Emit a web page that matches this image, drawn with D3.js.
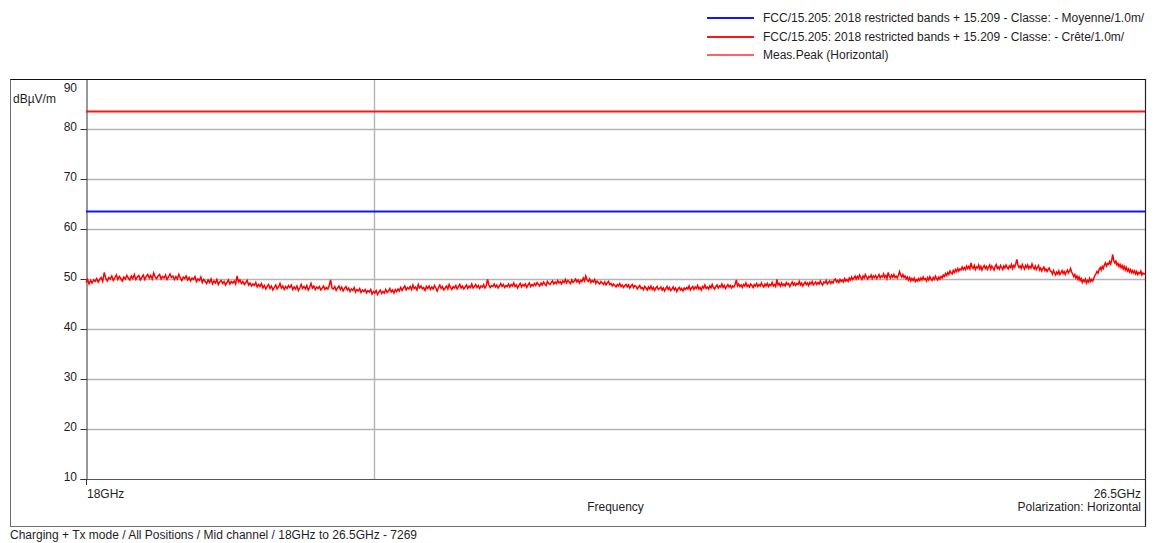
<!DOCTYPE html>
<html>
<head>
<meta charset="utf-8">
<script src="https://cdn.jsdelivr.net/npm/d3@7"></script>
<style>
  html, body { margin: 0; padding: 0; background: #fff; }
  svg { display: block; font-family: "Liberation Sans", Arial, sans-serif; }
</style>
</head>
<body>
<svg id="chart" width="1154" height="543"></svg>
<script>
// Sweep settings (GHz)
const sweepStart = 18;
const sweepStop = 26.5;

// Y axis ticks (dBµV/m) and X grid frequency (GHz)
const yTicks = [10, 20, 30, 40, 50, 60, 70, 80, 90];
const xGrid = [20];
const xEndLabels = ["18GHz", "26.5GHz"];

// Limit lines (dBµV/m)
const limitNames = [
  "FCC/15.205: 2018 restricted bands + 15.209 - Classe: - Moyenne/1.0m/",
  "FCC/15.205: 2018 restricted bands + 15.209 - Classe: - Crête/1.0m/"
];
const limitLevels = [63.5, 83.5];
const limitColors = ["#1414ff", "#ff1414"];

// Measured peak trace, horizontal polarization (dBµV/m), equally spaced sweep points
const peakName = "Meas.Peak (Horizontal)";
const peakLevels = [
  49.3, 49.9, 49.0, 49.7, 49.2, 49.8, 49.5, 50.1, 49.4, 49.9, 50.3, 49.5, 51.3, 50.2, 49.6, 50.3, 50.0, 50.6, 49.7, 50.2,
  50.8, 49.9, 50.5, 50.1, 49.6, 50.4, 50.0, 50.7, 50.2, 49.8, 50.6, 50.1, 50.9, 49.9, 50.4, 50.7, 49.8, 50.3, 50.8, 49.9,
  50.5, 50.9, 50.2, 50.7, 50.0, 51.2, 50.4, 50.1, 50.6, 50.9, 50.0, 50.5, 50.2, 50.8, 49.9, 50.4, 51.0, 50.3, 50.6, 49.9,
  50.5, 50.0, 50.9, 50.2, 49.7, 50.4, 50.1, 50.6, 49.8, 50.3, 49.6, 50.2, 49.9, 50.5, 49.5, 50.0, 49.7, 50.4, 49.3, 49.9,
  49.5, 49.1, 49.8, 49.3, 50.0, 49.0, 49.6, 49.2, 49.9, 48.9, 49.4, 49.7, 49.1, 49.5, 48.8, 49.3, 49.8, 49.0, 49.5, 49.2,
  49.6, 49.0, 50.6, 49.4, 49.8, 49.1, 49.5, 48.9, 49.3, 49.7, 48.8, 49.2, 48.6, 49.0, 48.7, 49.3, 48.4, 48.9, 48.5, 49.1,
  48.2, 48.7, 48.0, 48.5, 48.9, 48.1, 48.6, 47.8, 48.3, 48.8, 48.0, 48.4, 49.1, 48.2, 48.6, 47.9, 48.5, 48.1, 48.7, 48.3,
  48.8, 47.9, 48.4, 48.0, 48.6, 47.7, 48.2, 48.9, 48.1, 48.5, 48.0, 48.7, 47.8, 48.3, 49.1, 48.2, 48.6, 47.9, 48.4, 48.1,
  48.5, 47.8, 48.2, 48.6, 47.9, 48.3, 48.0, 48.7, 49.8, 48.2, 48.0, 48.5, 47.7, 48.2, 48.6, 47.9, 48.4, 47.6, 48.1, 48.5,
  47.8, 48.2, 47.5, 48.0, 47.7, 48.3, 47.4, 47.9, 47.6, 48.1, 47.3, 47.8, 47.5, 47.9, 47.2, 47.7, 47.4, 47.9, 47.0, 47.5,
  47.2, 47.7, 46.9, 47.4, 47.8, 47.1, 47.5, 47.2, 47.9, 47.3, 47.6, 48.1, 47.4, 47.8, 47.2, 47.9, 47.5, 48.0, 47.6, 48.3,
  47.7, 48.2, 48.6, 47.8, 48.3, 48.0, 48.5, 47.9, 48.8, 48.1, 48.4, 47.8, 48.9, 48.2, 48.6, 48.0, 48.3, 47.7, 48.5, 48.1,
  48.6, 47.9, 48.4, 48.0, 48.7, 48.2, 47.6, 48.3, 48.8, 48.1, 48.5, 47.8, 48.2, 48.6, 48.0, 48.9, 48.3, 47.9, 48.5, 48.2,
  48.7, 48.0, 48.5, 48.9, 48.2, 48.6, 48.0, 48.4, 48.8, 48.1, 48.6, 48.3, 49.0, 48.2, 48.5, 48.9, 48.3, 48.7, 48.1, 48.6,
  48.4, 48.9, 48.2, 48.7, 49.9, 48.8, 48.3, 48.7, 48.5, 49.0, 48.4, 48.8, 48.2, 48.6, 49.1, 48.5, 48.9, 48.3, 48.7, 48.5,
  49.0, 48.4, 48.9, 48.6, 49.2, 48.5, 48.8, 48.2, 48.7, 49.1, 48.4, 48.9, 48.6, 49.0, 48.3, 48.8, 49.2, 48.5, 48.9, 48.6,
  49.1, 48.7, 49.3, 48.9, 48.6, 49.2, 48.8, 49.4, 49.0, 48.7, 49.5, 49.1, 48.9, 49.3, 49.6, 49.0, 49.4, 49.1, 49.7, 49.2,
  49.5, 49.0, 49.6, 49.3, 49.9, 49.2, 49.7, 49.4, 49.1, 49.8, 49.3, 49.6, 50.0, 49.4, 49.8, 49.2, 49.7, 49.5, 50.2, 49.6,
  50.6, 49.8, 49.5, 50.0, 49.3, 49.7, 49.4, 49.9, 49.1, 49.6, 49.3, 49.0, 49.5, 49.2, 48.9, 49.4, 48.8, 49.2, 49.5, 48.9,
  49.1, 48.6, 49.0, 48.7, 48.4, 48.9, 48.6, 49.1, 48.5, 48.8, 48.3, 48.7, 48.9, 48.4, 48.8, 48.2, 48.6, 48.9, 48.3, 48.7,
  48.5, 48.0, 48.4, 48.7, 48.1, 48.3, 47.9, 48.5, 48.2, 47.8, 48.4, 48.0, 48.6, 47.9, 48.3, 47.7, 48.2, 48.5, 47.9, 48.1,
  48.4, 47.8, 48.2, 47.6, 48.1, 48.5, 47.9, 48.3, 47.7, 48.0, 48.4, 47.8, 48.2, 47.5, 48.0, 48.3, 47.8, 48.1, 47.6, 48.2,
  47.9, 48.3, 48.0, 48.6, 47.8, 48.2, 48.5, 47.9, 48.4, 48.1, 48.7, 48.0, 48.3, 47.8, 48.5, 48.2, 48.8, 48.1, 48.4, 48.0,
  48.6, 48.2, 48.9, 48.3, 48.0, 48.5, 48.8, 48.2, 48.6, 48.4, 49.0, 48.3, 48.7, 48.1, 48.5, 48.9, 48.4, 48.7, 48.2, 48.6,
  48.4, 48.9, 49.8, 48.6, 49.0, 48.5, 48.8, 48.3, 48.9, 48.6, 49.2, 48.5, 48.8, 48.4, 49.0, 48.7, 48.3, 48.9, 48.6, 49.1,
  48.5, 48.9, 48.6, 49.2, 48.7, 48.4, 49.0, 48.6, 49.1, 48.5, 48.9, 48.7, 49.3, 48.6, 48.9, 48.5, 49.9, 48.8, 49.1, 48.6,
  49.2, 48.7, 49.0, 48.6, 49.3, 48.9, 49.1, 48.5, 49.0, 49.4, 48.8, 49.2, 48.7, 49.1, 48.9, 49.5, 48.8, 49.2, 48.6, 49.0,
  49.4, 48.9, 49.2, 48.7, 49.3, 49.0, 49.5, 48.8, 49.1, 49.4, 48.9, 49.3, 49.0, 49.6, 49.1, 48.8, 49.4, 49.2, 49.7, 49.0,
  49.3, 49.6, 49.1, 49.5, 49.2, 49.8, 50.0, 49.4, 49.7, 49.3, 49.9, 49.5, 49.8, 49.4, 50.1, 49.6, 49.9, 49.5, 50.2, 49.8,
  50.4, 49.9, 50.2, 50.6, 50.0, 50.5, 50.1, 50.8, 50.3, 49.9, 50.6, 50.2, 50.9, 50.4, 50.0, 50.5, 50.3, 50.8, 50.1, 50.6,
  50.3, 50.7, 50.1, 50.5, 50.9, 50.2, 50.6, 50.4, 51.0, 50.3, 50.7, 50.1, 51.3, 50.6, 50.2, 50.8, 50.4, 50.9, 50.3, 50.6,
  50.2, 50.7, 51.5, 50.8, 50.4, 50.9, 50.3, 50.6, 50.0, 50.4, 49.8, 50.3, 49.6, 50.1, 49.7, 50.2, 49.5, 49.9, 49.6, 50.1,
  49.7, 50.2, 49.8, 50.4, 49.9, 50.1, 49.6, 50.3, 49.8, 50.5, 50.0, 49.7, 50.3, 49.9, 50.6, 50.1, 49.8, 50.4, 50.0, 50.5,
  50.2, 50.8, 50.5, 51.1, 50.7, 51.3, 50.9, 51.6, 51.2, 51.0, 51.7, 51.3, 51.9, 51.5, 52.1, 51.6, 52.0, 51.8, 52.4, 51.9,
  52.3, 51.9, 52.6, 52.1, 52.5, 52.0, 53.2, 52.4, 52.1, 52.7, 51.9, 52.4, 52.2, 52.8, 52.0, 52.5, 51.8, 52.3, 52.7, 52.1,
  52.5, 51.9, 52.4, 52.8, 52.0, 52.6, 52.2, 51.8, 52.5, 52.9, 52.1, 52.4, 52.0, 52.7, 52.3, 51.9, 52.6, 52.2, 52.8, 52.3,
  52.0, 52.6, 52.3, 52.9, 52.1, 52.7, 52.4, 53.1, 53.9, 52.8, 52.3, 52.6, 52.1, 52.9, 52.4, 52.0, 52.7, 52.3, 52.8, 52.1,
  52.5, 52.2, 53.0, 52.4, 52.0, 52.6, 51.9, 52.3, 52.7, 51.8, 52.2, 51.6, 52.1, 52.4, 51.7, 52.0, 51.5, 51.9, 52.2, 51.6,
  51.5, 51.0, 51.7, 51.2, 50.8, 51.4, 51.0, 51.6, 50.9, 51.3, 51.7, 51.1, 51.5, 50.9, 51.4, 51.8, 51.2, 51.6, 52.1, 51.4,
  51.0, 50.5, 50.9, 50.2, 50.6, 49.9, 50.4, 49.7, 50.1, 49.3, 49.8, 49.5, 50.0, 49.2, 49.7, 49.4, 50.1, 49.5, 49.9, 49.6,
  50.2, 50.7, 51.0, 51.5, 51.2, 51.9, 52.3, 51.8, 52.5, 52.1, 52.8, 53.2, 52.6, 53.1, 52.9, 53.5, 53.0, 53.8, 54.9, 53.6,
  53.2, 53.6, 52.8, 53.1, 52.5, 52.9, 52.3, 52.7, 52.0, 52.5, 51.8, 52.3, 51.6, 52.0, 51.4, 51.9, 51.3, 51.7, 51.2, 51.6,
  51.0, 51.5, 50.9, 51.3, 51.1, 51.6, 50.8, 51.2, 51.0, 51.1
];

const captionText = "Charging + Tx mode / All Positions / Mid channel / 18GHz to 26.5GHz - 7269";
const xTitle = "Frequency";
const polText = "Polarization: Horizontal";
const yUnit = "dBµV/m";

// Layout
const frame = { left: 10.5, right: 1145.5, top: 79.5, bottom: 526.5 };
const plot = { left: 86, right: 1145, top: 79, bottom: 479 };
const fontSize = 12;
const textColor = "#1e1e1e";

const svg = d3.select("#chart");

const x = d3.scaleLog().domain([sweepStart, sweepStop]).range([plot.left, plot.right]);
const y = d3.scaleLinear().domain([10, 90]).range([plot.bottom, plot.top]);

const step = (sweepStop - sweepStart) / (peakLevels.length - 1);
const peakData = peakLevels.map((v, i) => ({ f: sweepStart + i * step, v }));

// Outer frame
svg.append("rect")
  .attr("x", frame.left).attr("y", frame.top)
  .attr("width", frame.right - frame.left).attr("height", frame.bottom - frame.top)
  .attr("fill", "none").attr("stroke", "#6e6e6e").attr("stroke-width", 1);

// Horizontal grid
svg.append("g").selectAll("line")
  .data(yTicks.filter(t => t > 10 && t < 90))
  .join("line")
  .attr("x1", plot.left).attr("x2", plot.right)
  .attr("y1", d => Math.round(y(d)) + 0.5).attr("y2", d => Math.round(y(d)) + 0.5)
  .attr("stroke", "#b4b4b4").attr("stroke-width", 1.4);

// Vertical grid
svg.append("g").selectAll("line")
  .data(xGrid)
  .join("line")
  .attr("x1", d => Math.round(x(d)) + 0.5).attr("x2", d => Math.round(x(d)) + 0.5)
  .attr("y1", plot.top).attr("y2", plot.bottom)
  .attr("stroke", "#b4b4b4").attr("stroke-width", 1.4);

// Y axis with ticks on the left
const yAxis = d3.axisLeft(y).tickValues(yTicks).tickSize(6).tickFormat("");
const gy = svg.append("g").attr("transform", `translate(${plot.left + 0.5},0)`).call(yAxis);
gy.select(".domain").attr("stroke", "#333");
gy.selectAll(".tick line").attr("stroke", "#333");
gy.selectAll(".tick").attr("transform", d => `translate(0,${Math.round(y(d)) + 0.5})`);

svg.append("g").selectAll("text")
  .data(yTicks)
  .join("text")
  .attr("x", 77)
  .attr("y", d => d === 90 ? y(d) + 13 : y(d) + 2)
  .attr("text-anchor", "end")
  .attr("font-size", fontSize)
  .attr("fill", textColor)
  .text(d => d);

// Bottom axis line and start tick
svg.append("line")
  .attr("x1", plot.left).attr("x2", plot.right)
  .attr("y1", plot.bottom + 0.5).attr("y2", plot.bottom + 0.5)
  .attr("stroke", "#555").attr("stroke-width", 1);
svg.append("line")
  .attr("x1", x(sweepStart) + 0.5).attr("x2", x(sweepStart) + 0.5)
  .attr("y1", plot.bottom).attr("y2", plot.bottom + 6)
  .attr("stroke", "#333");

// Plot top and right border
svg.append("line")
  .attr("x1", frame.left).attr("x2", plot.right)
  .attr("y1", plot.top + 0.5).attr("y2", plot.top + 0.5)
  .attr("stroke", "#111").attr("stroke-width", 1.2);
svg.append("line")
  .attr("x1", plot.right + 0.5).attr("x2", plot.right + 0.5)
  .attr("y1", plot.top).attr("y2", frame.bottom)
  .attr("stroke", "#222").attr("stroke-width", 1.2);

// Limit lines
svg.append("g").selectAll("line")
  .data(limitLevels)
  .join("line")
  .attr("x1", x(sweepStart)).attr("x2", x(sweepStop))
  .attr("y1", d => y(d)).attr("y2", d => y(d))
  .attr("stroke", (d, i) => limitColors[i]).attr("stroke-width", 2.2);

// Peak trace
svg.append("path")
  .datum(peakData)
  .attr("d", d3.line().x(d => x(d.f)).y(d => y(d.v)))
  .attr("fill", "none")
  .attr("stroke", "#ff0000")
  .attr("stroke-width", 1.5)
  .attr("stroke-linejoin", "miter");

// Axis texts
svg.append("text").attr("x", 13).attr("y", 103).attr("font-size", fontSize).attr("fill", textColor).text(yUnit);
svg.append("text").attr("x", x(sweepStart) + 1).attr("y", 498).attr("font-size", fontSize).attr("fill", textColor).text(xEndLabels[0]);
svg.append("text").attr("x", x(sweepStop) - 4).attr("y", 498).attr("font-size", fontSize).attr("text-anchor", "end").attr("fill", textColor).text(xEndLabels[1]);
svg.append("text").attr("x", (plot.left + plot.right) / 2).attr("y", 511).attr("font-size", fontSize).attr("text-anchor", "middle").attr("fill", textColor).text(xTitle);
svg.append("text").attr("x", x(sweepStop) - 4).attr("y", 511).attr("font-size", fontSize).attr("text-anchor", "end").attr("fill", textColor).text(polText);
svg.append("text").attr("x", 10).attr("y", 539).attr("font-size", fontSize).attr("fill", textColor).text(captionText);

// Legend
const legendItems = [
  { name: limitNames[0], color: limitColors[0], w: 2.2 },
  { name: limitNames[1], color: limitColors[1], w: 2.2 },
  { name: peakName, color: "#ff3030", w: 1.3 }
];
const legendY = [18, 37, 55];
const lg = svg.append("g").selectAll("g").data(legendItems).join("g")
  .attr("transform", (d, i) => `translate(0,${legendY[i]})`);
lg.append("line").attr("x1", 707).attr("x2", 754).attr("y1", 0).attr("y2", 0)
  .attr("stroke", d => d.color).attr("stroke-width", d => d.w);
lg.append("text").attr("x", 763).attr("y", 4).attr("font-size", fontSize).attr("fill", textColor).text(d => d.name);
</script>
</body>
</html>
